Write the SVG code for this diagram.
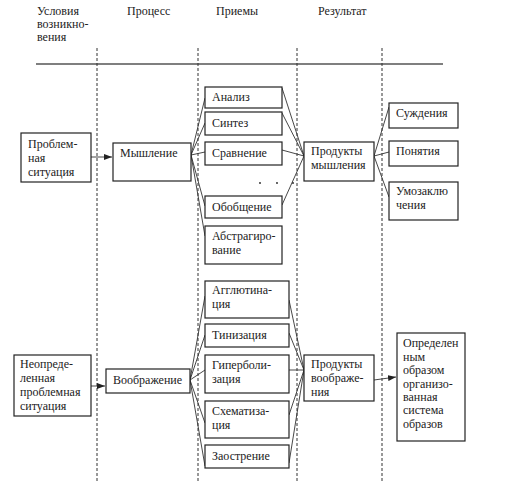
<svg xmlns="http://www.w3.org/2000/svg" width="510" height="482" viewBox="0 0 510 482">
<style>
text{font-family:"Liberation Serif","Times New Roman",serif;font-size:12px;fill:#222}
.b{fill:#fff;stroke:#222;stroke-width:1.2}
.c{stroke:#333;stroke-width:0.9;fill:none}
.d{stroke:#333;stroke-width:1;stroke-dasharray:3 2;fill:none}
</style>
<defs>
<marker id="a" viewBox="0 0 8 6" refX="8" refY="3" markerWidth="8" markerHeight="6" orient="auto" markerUnits="userSpaceOnUse">
<path d="M0,0 L8,3 L0,6 z" fill="#222"/>
</marker>
</defs>
<rect width="510" height="482" fill="#fff"/>
<g id="header">
<text x="37" y="15">Условия</text>
<text x="37" y="28">возникно-</text>
<text x="37" y="41">вения</text>
<text x="127" y="15">Процесс</text>
<text x="216" y="15">Приемы</text>
<text x="318" y="15">Результат</text>
<line x1="36" y1="64" x2="443" y2="64" stroke="#555" stroke-width="1.5"/>
</g>
<g id="dividers">
<line class="d" x1="97" y1="48" x2="97" y2="482"/>
<line class="d" x1="198" y1="48" x2="198" y2="482"/>
<line class="d" x1="297" y1="48" x2="297" y2="482"/>
<line class="d" x1="382" y1="48" x2="382" y2="482"/>
</g>
<g id="connectors">
<line class="c" x1="91" y1="157" x2="112" y2="157" marker-end="url(#a)"/>
<line class="c" x1="191" y1="155" x2="205" y2="98"/>
<line class="c" x1="191" y1="155" x2="205" y2="123"/>
<line class="c" x1="191" y1="155" x2="205" y2="152"/>
<line class="c" x1="191" y1="155" x2="205" y2="206"/>
<line class="c" x1="191" y1="155" x2="205" y2="236"/>
<line class="c" x1="282" y1="88" x2="304" y2="156"/>
<line class="c" x1="282" y1="113" x2="304" y2="156"/>
<line class="c" x1="282" y1="150" x2="304" y2="156"/>
<line class="c" x1="282" y1="205" x2="304" y2="156"/>
<line class="c" x1="374" y1="156" x2="389" y2="107"/>
<line class="c" x1="374" y1="156" x2="389" y2="152"/>
<line class="c" x1="374" y1="156" x2="389" y2="197"/>
<line class="c" x1="91" y1="386" x2="105" y2="386" marker-end="url(#a)"/>
<line class="c" x1="190" y1="380" x2="205" y2="296"/>
<line class="c" x1="190" y1="380" x2="205" y2="335"/>
<line class="c" x1="190" y1="380" x2="205" y2="370"/>
<line class="c" x1="190" y1="380" x2="205" y2="423"/>
<line class="c" x1="190" y1="380" x2="205" y2="466"/>
<line class="c" x1="289" y1="300" x2="304" y2="370"/>
<line class="c" x1="289" y1="333" x2="304" y2="370"/>
<line class="c" x1="289" y1="370" x2="304" y2="370"/>
<line class="c" x1="289" y1="415" x2="304" y2="370"/>
<line class="c" x1="289" y1="463" x2="304" y2="370"/>
<line class="c" x1="374" y1="380" x2="396" y2="377" marker-end="url(#a)"/>
</g>
<g id="problem">
<rect class="b" x="21" y="133" width="70" height="49"/>
<text x="28" y="148">Проблем-</text>
<text x="28" y="162">ная</text>
<text x="28" y="176">ситуация</text>
</g>
<g id="thinking">
<rect class="b" x="113" y="143" width="78" height="38"/>
<text x="120" y="157">Мышление</text>
</g>
<g id="analysis"><rect class="b" x="205" y="87" width="77" height="21"/><text x="212" y="101">Анализ</text></g>
<g id="synthesis"><rect class="b" x="205" y="112" width="77" height="23"/><text x="212" y="127">Синтез</text></g>
<g id="comparison"><rect class="b" x="205" y="142" width="77" height="23"/><text x="212" y="157">Сравнение</text></g>
<g id="dots">
<circle cx="260" cy="183" r="0.9" fill="#222"/>
<circle cx="277" cy="183" r="0.9" fill="#222"/>
<circle cx="293" cy="183" r="0.9" fill="#222"/>
</g>
<g id="generalization"><rect class="b" x="205" y="196" width="77" height="22"/><text x="212" y="211">Обобщение</text></g>
<g id="abstraction"><rect class="b" x="205" y="226" width="77" height="38"/><text x="212" y="240">Абстрагиро-</text><text x="212" y="254">вание</text></g>
<g id="thought-products"><rect class="b" x="304" y="142" width="70" height="39"/><text x="311" y="155">Продукты</text><text x="311" y="169">мышления</text></g>
<g id="judgements"><rect class="b" x="389" y="103" width="69" height="25"/><text x="396" y="117">Суждения</text></g>
<g id="concepts"><rect class="b" x="389" y="141" width="69" height="25"/><text x="396" y="155">Понятия</text></g>
<g id="inferences"><rect class="b" x="389" y="182" width="69" height="38"/><text x="396" y="195">Умозаклю</text><text x="396" y="209">чения</text></g>
<g id="uncertain">
<rect class="b" x="14" y="355" width="77" height="61"/>
<text x="20" y="368">Неопреде-</text>
<text x="20" y="382">ленная</text>
<text x="20" y="396">проблемная</text>
<text x="20" y="410">ситуация</text>
</g>
<g id="imagination"><rect class="b" x="106" y="369" width="84" height="24"/><text x="113" y="384">Воображение</text></g>
<g id="agglutination"><rect class="b" x="205" y="281" width="84" height="37"/><text x="212" y="294">Агглютина-</text><text x="212" y="308">ция</text></g>
<g id="typification"><rect class="b" x="205" y="324" width="84" height="23"/><text x="212" y="339">Тинизация</text></g>
<g id="hyperbolization"><rect class="b" x="205" y="355" width="84" height="38"/><text x="212" y="369">Гиперболи-</text><text x="212" y="383">зация</text></g>
<g id="schematization"><rect class="b" x="205" y="401" width="84" height="37"/><text x="212" y="415">Схематиза-</text><text x="212" y="429">ция</text></g>
<g id="sharpening"><rect class="b" x="205" y="445" width="84" height="23"/><text x="212" y="460">Заострение</text></g>
<g id="imagination-products"><rect class="b" x="304" y="355" width="70" height="46"/><text x="311" y="368">Продукты</text><text x="311" y="382">воображе-</text><text x="311" y="396">ния</text></g>
<g id="image-system">
<rect class="b" x="397" y="333" width="68" height="108"/>
<text x="403" y="347">Определен</text>
<text x="403" y="361">ным</text>
<text x="403" y="374">образом</text>
<text x="403" y="388">организо-</text>
<text x="403" y="401">ванная</text>
<text x="403" y="414">система</text>
<text x="403" y="428">образов</text>
</g>
</svg>
